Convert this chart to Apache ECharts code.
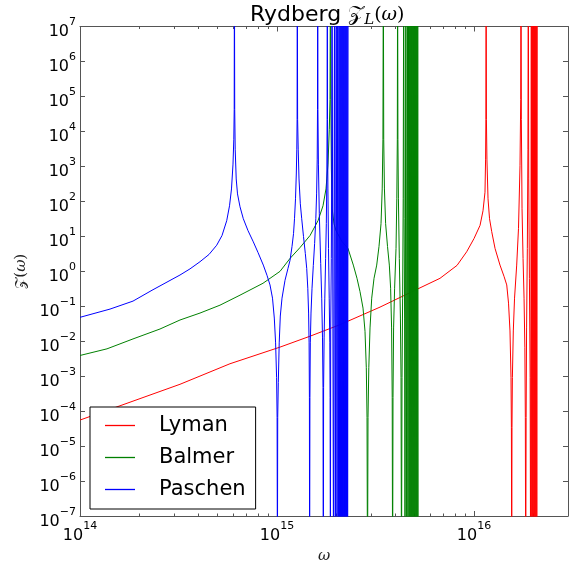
<!DOCTYPE html>
<html><head><meta charset="utf-8">
<script src="https://cdn.jsdelivr.net/npm/echarts@6/dist/echarts.min.js"></script>
<style>html,body{margin:0;padding:0;background:#fff}#c{width:569px;height:569px}</style>
</head><body><div id="c"></div>
<script>
const seriesNames = ['Lyman', 'Balmer', 'Paschen'];
const seriesColors = ['#ff0000', '#008000', '#0000ff'];

const lyman = [[1e14,5.55e-5],[1.596e14,1.42e-4],[3.218e14,5.85e-4],[5.77e14,2.26e-3],[1.036e15,6.76e-3],[1.471e15,1.387e-2],[2.088e15,2.965e-2],[3.333e15,9.42e-2],[4.90e15,0.2685],[6.72e15,0.628],[8.2e15,1.47],[9.18e15,3.61],[1e16,8.61],[1.073e16,20.5],[1.111e16,53.7],[1.137e16,182],[1.145e16,1.61e3],[1.149e16,2.21e4],[1.152e16,1e9],[1.156e16,2.21e4],[1.163e16,1.61e3],[1.178e16,118],[1.199e16,31.8],[1.230e16,13.6],[1.279e16,4.48],[1.355e16,1.50],[1.420e16,0.716],[1.466e16,0.406],[1.497e16,0.1225],[1.523e16,0.0196],[1.541e16,9.06e-4],[1.548e16,3.44e-5],[1.554e16,1e-9],[1.559e16,3.44e-5],[1.566e16,9.06e-4],[1.583e16,0.0196],[1.606e16,0.170],[1.647e16,1.50],[1.682e16,16.6],[1.712e16,1040],[1.726e16,8.2e4],[1.732e16,1e9],[1.739e16,2.21e4],[1.753e16,61],[1.774e16,2.32],[1.795e16,0.170],[1.812e16,6.46e-3],[1.822e16,6.62e-5],[1.830e16,1e-9],[1.839e16,6.62e-5],[1.849e16,0.0239],[1.865e16,4.48],[1.878e16,3.10e3],[1.886e16,1e9],[1.896e16,436],[1.911e16,0.628],[1.927e16,9.06e-4],[1.938e16,1e-9],[1.954e16,1e9],[1.965e16,1e-9],[1.977e16,1e9],[1.988e16,1e-9],[2.000e16,1e9],[2.012e16,1e-9],[2.024e16,1e9],[2.035e16,1e-9],[2.047e16,1e9],[2.059e16,1e-9],[2.071e16,1e9],[2.083e16,1e-9],[2.096e16,1e9]];

const balmer = [[1e14,3.9e-3],[1.371e14,6.04e-3],[1.858e14,1.16e-2],[2.547e14,0.0223],[3.218e14,4.03e-2],[4.066e14,0.0637],[5.135e14,0.107],[6.490e14,0.207],[8.49e14,0.453],[1.036e15,0.993],[1.164e15,2.32],[1.309e15,4.77],[1.471e15,10.5],[1.615e15,27.9],[1.712e15,74.5],[1.773e15,226],[1.815e15,1.16e3],[1.843e15,1.15e4],[1.858e15,8.2e4],[1.867e15,1e9],[1.8755e15,8.2e4],[1.888e15,838],[1.906e15,61],[1.947e15,23.0],[1.993e15,14.5],[2.138e15,7.07],[2.293e15,4.48],[2.44e15,1.50],[2.547e15,0.628],[2.638e15,0.263],[2.733e15,0.0883],[2.797e15,0.0192],[2.840e15,1.74e-3],[2.864e15,6.62e-5],[2.880e15,1e-9],[2.897e15,6.62e-5],[2.924e15,1.74e-3],[2.966e15,0.0239],[3.025e15,0.170],[3.108e15,0.628],[3.207e15,1.50],[3.294e15,5.09],[3.373e15,23.0],[3.420e15,226],[3.449e15,5.97e3],[3.465e15,1e9],[3.481e15,5.97e3],[3.510e15,226],[3.559e15,23.0],[3.639e15,5.09],[3.717e15,1.50],[3.773e15,0.327],[3.817e15,0.0239],[3.844e15,2.45e-4],[3.862e15,1e-9],[3.880e15,2.45e-4],[3.907e15,0.0239],[3.954e15,0.327],[4.019e15,4.48],[4.056e15,118],[4.081e15,5.97e3],[4.095e15,1e9],[4.109e15,5.97e3],[4.133e15,118],[4.177e15,2.32],[4.231e15,0.0459],[4.261e15,9.06e-4],[4.285e15,1e-9],[4.311e15,9.06e-4],[4.341e15,0.170],[4.371e15,118],[4.397e15,1e9],[4.418e15,31.8],[4.444e15,0.0459],[4.465e15,1e-9],[4.507e15,1e9],[4.554e15,1e-9],[4.591e15,1e9],[4.624e15,1e-9],[4.656e15,1e9],[4.689e15,1e-9],[4.716e15,1e9],[4.745e15,1e-9],[4.773e15,1e9],[4.801e15,1e-9],[4.829e15,1e9],[4.857e15,1e-9],[4.886e15,1e9],[4.914e15,1e-9],[4.943e15,1e9],[4.972e15,1e-9],[5.001e15,1e9],[5.030e15,1e-9],[5.060e15,1e9],[5.090e15,1e-9],[5.120e15,1e9],[5.150e15,1e-9],[5.180e15,1e9],[5.210e15,1e-9]];

const paschen = [[1e14,0.0481],[1.420e14,0.0828],[1.858e14,0.140],[2.320e14,0.286],[2.966e14,0.608],[3.218e14,0.78],[3.618e14,1.17],[4.066e14,1.875],[4.517e14,3.02],[4.942e14,5.55],[5.258e14,10.5],[5.555e14,27.9],[5.741e14,74.5],[5.875e14,226],[5.980e14,1.16e3],[6.036e14,5.97e3],[6.064e14,4.25e4],[6.079e14,1e9],[6.100e14,4.25e4],[6.135e14,3.10e3],[6.208e14,436],[6.303e14,163],[6.490e14,69.8],[6.744e14,31.8],[7.125e14,14.5],[7.580e14,6.93],[8.009e14,3.44],[8.520e14,1.50],[8.895e14,0.766],[9.215e14,0.406],[9.488e14,0.170],[9.690e14,0.0459],[9.838e14,8.95e-3],[9.954e14,9.06e-4],[1.0012e15,6.62e-5],[1.0047e15,1e-9],[1.0083e15,6.62e-5],[1.0153e15,6.53e-4],[1.0261e15,8.95e-3],[1.0394e15,0.0524],[1.0602e15,0.170],[1.0980e15,0.551],[1.1371e15,1.21],[1.1641e15,2.04],[1.1916e15,5.09],[1.2129e15,11.9],[1.2270e15,31.8],[1.2415e15,118],[1.2531e15,604],[1.2604e15,3.10e3],[1.2648e15,2.21e4],[1.2677e15,1e9],[1.2724e15,2.21e4],[1.2812e15,3.10e3],[1.2934e15,436],[1.3132e15,84.9],[1.3348e15,31.8],[1.3631e15,9.8],[1.3922e15,3.23],[1.4151e15,1.21],[1.4332e15,0.327],[1.4468e15,0.0637],[1.4552e15,8.95e-3],[1.4606e15,2.45e-4],[1.4640e15,1e-9],[1.4690e15,2.45e-4],[1.4758e15,8.95e-3],[1.4881e15,0.0637],[1.5057e15,0.327],[1.5288e15,1.47],[1.5522e15,6.21],[1.5741e15,31.8],[1.5887e15,163],[1.6000e15,1.61e3],[1.6056e15,4.25e4],[1.6093e15,1e9],[1.6130e15,4.25e4],[1.6227e15,1.16e3],[1.6396e15,44.2],[1.6667e15,1.675],[1.6864e15,0.170],[1.7022e15,0.0124],[1.7122e15,4.71e-4],[1.7181e15,1e-9],[1.7241e15,4.71e-4],[1.7344e15,0.0124],[1.7485e15,0.170],[1.7650e15,2.32],[1.7797e15,23.0],[1.7900e15,436],[1.7962e15,2.21e4],[1.8004e15,1e9],[1.8045e15,2.21e4],[1.8132e15,226],[1.8258e15,4.48],[1.8408e15,0.170],[1.8535e15,8.95e-3],[1.8600e15,2.45e-4],[1.8667e15,1e-9],[1.8733e15,0.0239],[1.8863e15,2.32],[1.8954e15,436],[1.9020e15,1e9],[1.936e15,1e-9],[1.959e15,1e9],[1.977e15,1e-9],[1.998e15,1e9],[2.017e15,1e-9],[2.033e15,1e9],[2.048e15,1e-9],[2.065e15,1e9],[2.080e15,1e-9],[2.091e15,1e9],[2.103e15,1e-9],[2.116e15,1e9],[2.128e15,1e-9],[2.141e15,1e9],[2.153e15,1e-9],[2.166e15,1e9],[2.179e15,1e-9],[2.191e15,1e9],[2.204e15,1e-9],[2.217e15,1e9],[2.230e15,1e-9],[2.243e15,1e9],[2.256e15,1e-9],[2.270e15,1e9],[2.283e15,1e-9],[2.296e15,1e9]];

const xMajorTicks = [1e14, 1e15, 1e16];
const xMajorLabels = ['14', '15', '16'];
const xMinorTicks = [2e14,3e14,4e14,5e14,6e14,7e14,8e14,9e14,2e15,3e15,4e15,5e15,6e15,7e15,8e15,9e15,2e16];
const yTicks = [1e-7,1e-6,1e-5,1e-4,1e-3,1e-2,1e-1,1e0,1e1,1e2,1e3,1e4,1e5,1e6,1e7];
const yLabels = ['\u22127','\u22126','\u22125','\u22124','\u22123','\u22122','\u22121','0','1','2','3','4','5','6','7'];

const FONT = 'DejaVu Sans';
const AXC = '#555555';
const rich = {
  b: {fontFamily: FONT, fontSize: 16, lineHeight: 23, verticalAlign: 'bottom', color: '#000'},
  s: {fontFamily: FONT, fontSize: 11, lineHeight: 11, verticalAlign: 'top', color: '#000'}
};
function fmt(ticks, labels) {
  return function (v) {
    let best = 0, bd = Infinity;
    ticks.forEach(function (t, i) { const d = Math.abs(Math.log10(t) - Math.log10(v)); if (d < bd) { bd = d; best = i; } });
    return '{b|10}{s|' + labels[best] + '}';
  };
}
const xMin = 1e14, xMax = 3e16, yMin = 1e-7, yMax = 1e7;
function xAx(pos, minor, labels) {
  return {
    type: 'log', logBase: 10, min: xMin, max: xMax, position: pos, gridIndex: 0,
    axisLine: {show: !minor, onZero: false, lineStyle: {color: AXC, width: 1}},
    axisTick: {show: true, inside: true, length: minor ? 2.5 : 5, customValues: minor ? xMinorTicks : xMajorTicks, lineStyle: {color: AXC, width: 1}},
    axisLabel: labels ? {show: true, customValues: xMajorTicks, formatter: fmt(xMajorTicks, xMajorLabels), rich: rich, margin: 5} : {show: false},
    splitLine: {show: false}, minorTick: {show: false}, minorSplitLine: {show: false},
    name: labels ? '\u03c9' : '', nameLocation: 'middle', nameGap: 33,
    nameTextStyle: {fontFamily: 'DejaVu Serif', fontStyle: 'italic', fontSize: 15, color: '#222'}
  };
}
function yAx(pos, labels) {
  return {
    type: 'log', logBase: 10, min: yMin, max: yMax, position: pos, gridIndex: 0,
    axisLine: {show: true, onZero: false, lineStyle: {color: AXC, width: 1}},
    axisTick: {show: true, inside: true, length: 5, customValues: yTicks, lineStyle: {color: AXC, width: 1}},
    axisLabel: labels ? {show: true, customValues: yTicks, formatter: fmt(yTicks, yLabels), rich: rich, margin: 4, padding: [4, 0, 0, 0]} : {show: false},
    splitLine: {show: false}, minorTick: {show: false},
    name: labels ? '{z|\ud835\udcb5}{p|(}{w|\u03c9}{p|)}' : '', nameLocation: 'middle', nameGap: 43,
    nameTextStyle: {rich: {
      z: {fontFamily: 'DejaVu Serif', fontSize: 15, color: '#222'},
      p: {fontFamily: 'DejaVu Serif', fontSize: 15, color: '#222'},
      w: {fontFamily: 'DejaVu Serif', fontStyle: 'italic', fontSize: 15, color: '#222'}
    }}
  };
}
const chart = echarts.init(document.getElementById('c'), null, {renderer: 'canvas'});
const data = [lyman, balmer, paschen];
chart.setOption({
  animation: false,
  backgroundColor: '#ffffff',
  title: {
    text: '{t|Rydberg }{z|\ud835\udcb5}{sub|L}{p|(}{w|\u03c9}{p|)}',
    left: 250, top: 2, padding: 0,
    textStyle: {fontWeight: 'normal', rich: {
      t: {fontFamily: FONT, fontWeight: 'normal', fontSize: 22, lineHeight: 26, color: '#000'},
      z: {fontFamily: 'DejaVu Serif', fontWeight: 'normal', fontSize: 21, lineHeight: 26, color: '#000'},
      sub: {fontFamily: 'DejaVu Serif', fontWeight: 'normal', fontStyle: 'italic', fontSize: 15, lineHeight: 19, verticalAlign: 'bottom', color: '#000'},
      p: {fontFamily: 'DejaVu Serif', fontWeight: 'normal', fontSize: 19, lineHeight: 26, color: '#000'},
      w: {fontFamily: 'DejaVu Serif', fontWeight: 'normal', fontStyle: 'italic', fontSize: 19, lineHeight: 26, color: '#000'}
    }}
  },
  grid: {left: 80, right: 1, top: 26.5, bottom: 50, containLabel: false},
  legend: {
    data: seriesNames.map(function (n, i) {
      return {name: n, icon: 'path://M0,0L30,0L30,1.3L0,1.3Z', itemStyle: {color: seriesColors[i], borderColor: seriesColors[i], borderWidth: 0, opacity: 1}};
    }),
    orient: 'vertical', left: 90, top: 407,
    padding: [8, 10, 9, 15], itemGap: 11, itemWidth: 30, itemHeight: 1.3,
    backgroundColor: '#fff', borderColor: '#000', borderWidth: 1, borderRadius: 0,
    textStyle: {fontFamily: FONT, fontSize: 21, lineHeight: 21, color: '#000', padding: [0, 0, 0, 19]}
  },
  xAxis: [xAx('bottom', false, true), xAx('bottom', true, false), xAx('top', false, false), xAx('top', true, false)],
  yAxis: [yAx('left', true), yAx('right', false)],
  series: seriesNames.map(function (n, i) {
    return {
      name: n, type: 'line', xAxisIndex: 0, yAxisIndex: 0, data: data[i],
      symbol: 'none', showSymbol: false, clip: true, sampling: null,
      lineStyle: {color: seriesColors[i], width: 1}, itemStyle: {color: seriesColors[i]},
      emphasis: {disabled: true}
    };
  })
});
</script></body></html>
